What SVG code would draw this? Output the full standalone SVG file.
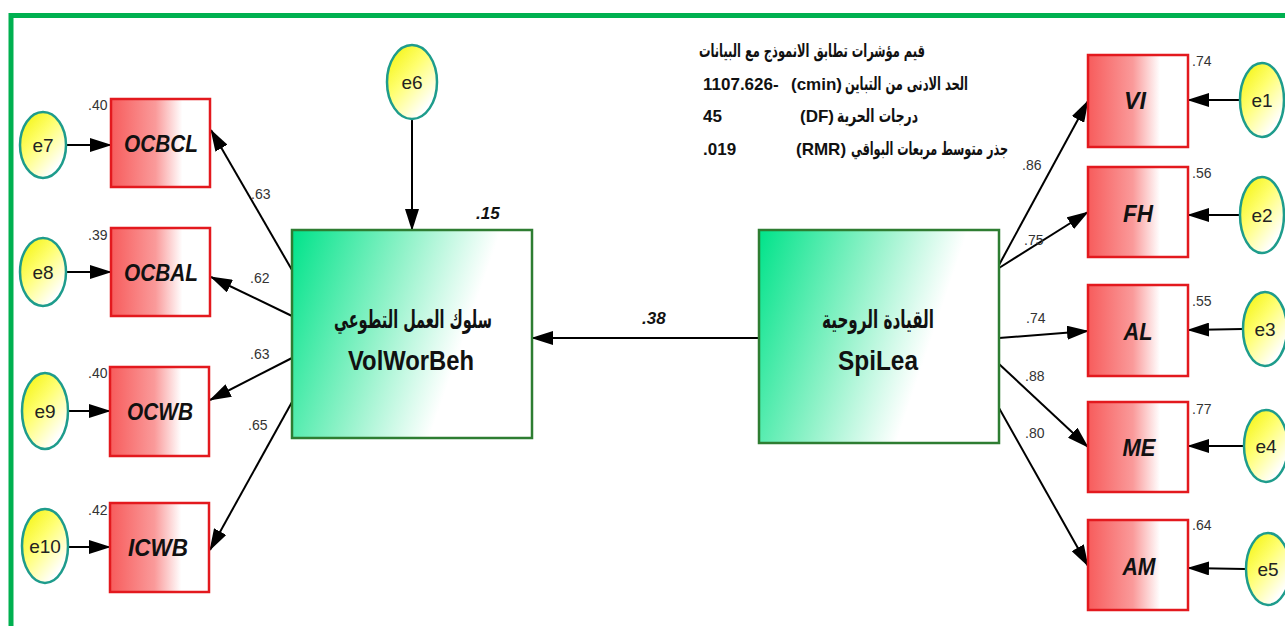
<svg xmlns="http://www.w3.org/2000/svg" width="1285" height="626" viewBox="0 0 1285 626">
<defs>
<linearGradient id="gRed" x1="0" y1="0" x2="1" y2="0">
<stop offset="0" stop-color="#F75C5C"/><stop offset="0.45" stop-color="#FA9A9A"/><stop offset="0.72" stop-color="#FFFFFF"/><stop offset="1" stop-color="#FFFFFF"/>
</linearGradient>
<linearGradient id="gGreen" x1="0" y1="0" x2="1" y2="0.3">
<stop offset="0" stop-color="#00E38A"/><stop offset="0.45" stop-color="#8FF2C8"/><stop offset="0.8" stop-color="#FFFFFF"/><stop offset="1" stop-color="#FFFFFF"/>
</linearGradient>
<linearGradient id="gYel" x1="0" y1="0" x2="0.8" y2="1">
<stop offset="0" stop-color="#F2F200"/><stop offset="0.45" stop-color="#FFFF70"/><stop offset="0.9" stop-color="#FFFFFF"/>
</linearGradient>
<marker id="ah" markerWidth="22" markerHeight="14" refX="21" refY="7" orient="auto" markerUnits="userSpaceOnUse">
<path d="M0,0 L22,7 L0,14 z" fill="#000"/>
</marker>
<style>
.obs{fill:url(#gRed);stroke:#E3191E;stroke-width:2.5}
.lat{fill:url(#gGreen);stroke:#2E7D32;stroke-width:2.5}
.err{fill:url(#gYel);stroke:#1E9C8C;stroke-width:2.5}
.lbl{font-family:"Liberation Sans",Arial,sans-serif;font-weight:bold;font-style:italic;font-size:24px;fill:#111;text-anchor:middle}
.etx{font-family:"Liberation Sans",Arial,sans-serif;font-size:19px;fill:#222;text-anchor:middle}
.num{font-family:"Liberation Sans",Arial,sans-serif;font-size:14px;fill:#333}
.bi{font-family:"Liberation Sans",Arial,sans-serif;font-size:17px;font-weight:bold;font-style:italic;fill:#111}
.ar{font-family:"DejaVu Sans","Noto Sans",sans-serif;font-weight:bold;fill:#111}
.st{font-family:"Liberation Sans",Arial,sans-serif;font-weight:bold;font-size:17px;fill:#111}
.big{font-family:"Liberation Sans",Arial,sans-serif;font-weight:bold;font-size:27px;fill:#111;text-anchor:middle}
.cn{stroke:#000;stroke-width:2;fill:none;marker-end:url(#ah)}
</style>
</defs>
<rect width="1285" height="626" fill="#FFFFFF"/>
<rect x="11" y="15.5" width="1300" height="640" fill="none" stroke="#00B050" stroke-width="5"/>

<g id="connectors">
<line class="cn" x1="67" y1="145" x2="111" y2="145"/>
<line class="cn" x1="66" y1="272" x2="111" y2="272"/>
<line class="cn" x1="68" y1="411" x2="110" y2="411"/>
<line class="cn" x1="68" y1="547" x2="110" y2="547"/>
<line class="cn" x1="292" y1="270" x2="211" y2="130"/>
<line class="cn" x1="292" y1="316" x2="211" y2="277"/>
<line class="cn" x1="292" y1="358" x2="210" y2="400"/>
<line class="cn" x1="292" y1="402" x2="210" y2="550"/>
<line class="cn" x1="412" y1="119" x2="412" y2="230"/>
<line class="cn" x1="758" y1="338" x2="532" y2="338"/>
<line class="cn" x1="999" y1="265" x2="1088" y2="101"/>
<line class="cn" x1="999" y1="268" x2="1088" y2="212"/>
<line class="cn" x1="999" y1="338" x2="1088" y2="331"/>
<line class="cn" x1="999" y1="364" x2="1088" y2="447"/>
<line class="cn" x1="999" y1="408" x2="1088" y2="566"/>
<line class="cn" x1="1240" y1="100" x2="1188" y2="100"/>
<line class="cn" x1="1240" y1="215" x2="1188" y2="215"/>
<line class="cn" x1="1243" y1="329" x2="1188" y2="330"/>
<line class="cn" x1="1243" y1="446" x2="1188" y2="446"/>
<line class="cn" x1="1245" y1="569" x2="1188" y2="568"/>
</g>

<g id="labels">
<text class="num" x="251" y="199">.63</text>
<text class="num" x="250" y="283">.62</text>
<text class="num" x="250" y="359">.63</text>
<text class="num" x="248" y="430">.65</text>
<text class="num" x="1022" y="170">.86</text>
<text class="num" x="1024" y="245">.75</text>
<text class="num" x="1026" y="323">.74</text>
<text class="num" x="1025" y="381">.88</text>
<text class="num" x="1025" y="438">.80</text>
<text class="bi" x="642" y="324">.38</text>
<text class="bi" x="476" y="219">.15</text>
</g>

<g id="fit">
<text class="ar" font-size="18" x="925" y="57" text-anchor="end" textLength="226" lengthAdjust="spacingAndGlyphs">قيم مؤشرات تطابق الانموذج مع البيانات</text>
<text class="st" x="703" y="90">1107.626-</text>
<text class="st" x="791" y="90">(cmin)</text>
<text class="ar" font-size="18" x="968" y="90" text-anchor="end" textLength="123" lengthAdjust="spacingAndGlyphs">الحد الادنى من التباين</text>
<text class="st" x="703" y="122">45</text>
<text class="st" x="800" y="122">(DF)</text>
<text class="ar" font-size="18" x="918" y="122" text-anchor="end" textLength="81" lengthAdjust="spacingAndGlyphs">درجات الحرية</text>
<text class="st" x="703" y="155">.019</text>
<text class="st" x="796" y="155">(RMR)</text>
<text class="ar" font-size="18" x="1008" y="155" text-anchor="end" textLength="157" lengthAdjust="spacingAndGlyphs">جذر متوسط مربعات البواقي</text>
</g>

<g id="OCBCL"><rect class="obs" x="111" y="99" width="99" height="88"/><text class="lbl" x="161" y="152" textLength="74" lengthAdjust="spacingAndGlyphs">OCBCL</text><text class="num" x="88" y="110">.40</text></g>
<g id="OCBAL"><rect class="obs" x="111" y="228" width="99" height="88"/><text class="lbl" x="161" y="281" textLength="74" lengthAdjust="spacingAndGlyphs">OCBAL</text><text class="num" x="88" y="240">.39</text></g>
<g id="OCWB"><rect class="obs" x="110" y="367" width="99" height="89"/><text class="lbl" x="160" y="420" textLength="66" lengthAdjust="spacingAndGlyphs">OCWB</text><text class="num" x="88" y="378">.40</text></g>
<g id="ICWB"><rect class="obs" x="110" y="503" width="99" height="89"/><text class="lbl" x="158" y="556" textLength="60" lengthAdjust="spacingAndGlyphs">ICWB</text><text class="num" x="88" y="515">.42</text></g>

<g id="e7"><ellipse class="err" cx="43" cy="145" rx="23" ry="33"/><text class="etx" x="43" y="152">e7</text></g>
<g id="e8"><ellipse class="err" cx="43" cy="272" rx="23" ry="34"/><text class="etx" x="43" y="279">e8</text></g>
<g id="e9"><ellipse class="err" cx="45" cy="411" rx="23" ry="38"/><text class="etx" x="45" y="418">e9</text></g>
<g id="e10"><ellipse class="err" cx="45" cy="546" rx="23" ry="37"/><text class="etx" x="45" y="553">e10</text></g>
<g id="e6"><ellipse class="err" cx="412" cy="82" rx="25" ry="37"/><text class="etx" x="412" y="89">e6</text></g>

<g id="VolWorBeh"><rect class="lat" x="292" y="230" width="240" height="208"/>
<text class="ar" font-size="25" x="413" y="328" text-anchor="middle" textLength="158" lengthAdjust="spacingAndGlyphs">سلوك العمل التطوعي</text>
<text class="big" x="411" y="370" textLength="126" lengthAdjust="spacingAndGlyphs">VolWorBeh</text></g>

<g id="SpiLea"><rect class="lat" x="759" y="230" width="240" height="213"/>
<text class="ar" font-size="25" x="878" y="328" text-anchor="middle" textLength="112" lengthAdjust="spacingAndGlyphs">القيادة الروحية</text>
<text class="big" x="878" y="370" textLength="80" lengthAdjust="spacingAndGlyphs">SpiLea</text></g>

<g id="VI"><rect class="obs" x="1088" y="55" width="100" height="92"/><text class="lbl" x="1135" y="109" textLength="22" lengthAdjust="spacingAndGlyphs">VI</text><text class="num" x="1192" y="66">.74</text></g>
<g id="FH"><rect class="obs" x="1088" y="167" width="100" height="90"/><text class="lbl" x="1138" y="222" textLength="30" lengthAdjust="spacingAndGlyphs">FH</text><text class="num" x="1192" y="178">.56</text></g>
<g id="AL"><rect class="obs" x="1088" y="285" width="100" height="91"/><text class="lbl" x="1138" y="340" textLength="29" lengthAdjust="spacingAndGlyphs">AL</text><text class="num" x="1192" y="306">.55</text></g>
<g id="ME"><rect class="obs" x="1088" y="402" width="100" height="90"/><text class="lbl" x="1139" y="456" textLength="33" lengthAdjust="spacingAndGlyphs">ME</text><text class="num" x="1192" y="414">.77</text></g>
<g id="AM"><rect class="obs" x="1088" y="520" width="100" height="90"/><text class="lbl" x="1139" y="575" textLength="33" lengthAdjust="spacingAndGlyphs">AM</text><text class="num" x="1192" y="530">.64</text></g>

<g id="e1"><ellipse class="err" cx="1262" cy="100" rx="22" ry="37"/><text class="etx" x="1262" y="107">e1</text></g>
<g id="e2"><ellipse class="err" cx="1262" cy="215" rx="22" ry="38"/><text class="etx" x="1262" y="222">e2</text></g>
<g id="e3"><ellipse class="err" cx="1265" cy="329" rx="22" ry="37"/><text class="etx" x="1265" y="336">e3</text></g>
<g id="e4"><ellipse class="err" cx="1266" cy="446" rx="22" ry="36"/><text class="etx" x="1266" y="453">e4</text></g>
<g id="e5"><ellipse class="err" cx="1268" cy="569" rx="22" ry="36"/><text class="etx" x="1268" y="576">e5</text></g>
</svg>
